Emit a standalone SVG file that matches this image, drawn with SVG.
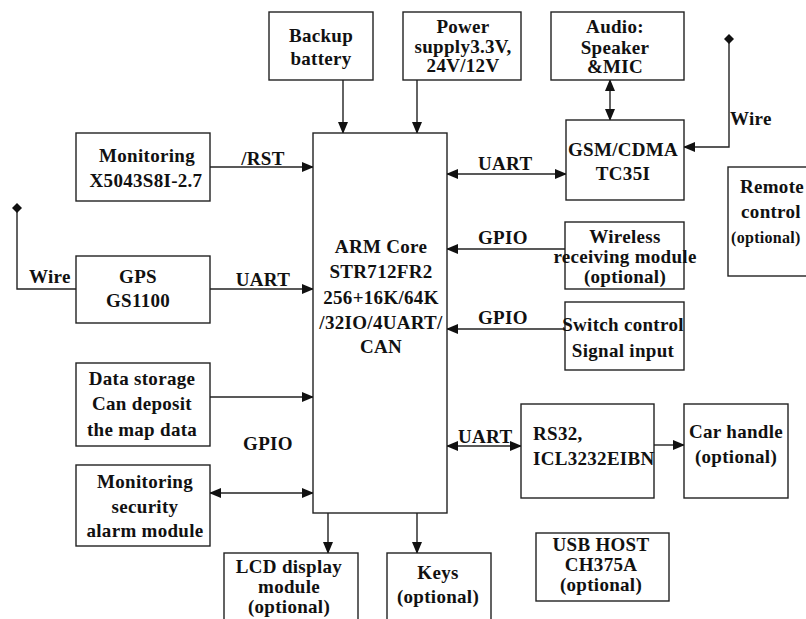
<svg xmlns="http://www.w3.org/2000/svg" width="806" height="619" viewBox="0 0 806 619">
<style>
.b{fill:#fff;stroke:#222;stroke-width:1.4}
.c{fill:none;stroke:#222;stroke-width:1.4}
text{font-family:"Liberation Serif","Times New Roman",serif;font-weight:bold;font-size:19px;fill:#111;text-anchor:middle;letter-spacing:0.3px}
.l{text-anchor:start}
</style>
<defs>
<marker id="ae" markerWidth="12" markerHeight="10" refX="11" refY="5" orient="auto" markerUnits="userSpaceOnUse"><path d="M0,0L12,5L0,10z" fill="#111"/></marker>
<marker id="as" markerWidth="12" markerHeight="10" refX="1" refY="5" orient="auto" markerUnits="userSpaceOnUse"><path d="M12,0L0,5L12,10z" fill="#111"/></marker>
<marker id="dm" markerWidth="10" markerHeight="10" refX="5" refY="5" orient="auto" markerUnits="userSpaceOnUse"><path d="M5,0L10,5L5,10L0,5z" fill="#111"/></marker>
</defs>
<g id="connectors">
<path class="c" d="M343,80V133" marker-end="url(#ae)"/>
<path class="c" d="M417,80V133" marker-end="url(#ae)"/>
<path class="c" d="M610,80V120" marker-start="url(#as)" marker-end="url(#ae)"/>
<path class="c" d="M729,39V147H684" marker-start="url(#dm)" marker-end="url(#ae)"/>
<path class="c" d="M447,174H566" marker-start="url(#as)" marker-end="url(#ae)"/>
<path class="c" d="M565,249H447" marker-end="url(#ae)"/>
<path class="c" d="M565,329H447" marker-end="url(#ae)"/>
<path class="c" d="M210,167H313" marker-end="url(#ae)"/>
<path class="c" d="M210,289H313" marker-end="url(#ae)"/>
<path class="c" d="M17,208V289H76" marker-start="url(#dm)"/>
<path class="c" d="M210,397H313" marker-end="url(#ae)"/>
<path class="c" d="M210,493H313" marker-start="url(#as)" marker-end="url(#ae)"/>
<path class="c" d="M328,513V553" marker-end="url(#ae)"/>
<path class="c" d="M417,513V553" marker-end="url(#ae)"/>
<path class="c" d="M447,446H521" marker-start="url(#as)" marker-end="url(#ae)"/>
<path class="c" d="M654,445H684" marker-end="url(#ae)"/>
<text x="263" y="165">/RST</text>
<text x="263" y="286">UART</text>
<text x="268" y="450">GPIO</text>
<text class="l" x="478" y="170">UART</text>
<text class="l" x="478" y="244">GPIO</text>
<text class="l" x="478" y="324">GPIO</text>
<text class="l" x="458" y="443">UART</text>
<text class="l" x="730" y="125">Wire</text>
<text class="l" x="29" y="283">Wire</text>
</g>
<g id="backup"><rect class="b" x="269" y="12" width="104" height="68"/><text x="321" y="42">Backup</text><text x="321" y="65">battery</text></g>
<g id="power"><rect class="b" x="403" y="12" width="118" height="68"/><text x="463" y="33">Power</text><text x="463" y="53">supply3.3V,</text><text x="463" y="72">24V/12V</text></g>
<g id="audio"><rect class="b" x="551" y="12" width="133" height="68"/><text x="615" y="33">Audio:</text><text x="615" y="54">Speaker</text><text x="615" y="73">&amp;MIC</text></g>
<g id="gsm"><rect class="b" x="566" y="120" width="118" height="80"/><text x="623" y="156">GSM/CDMA</text><text x="623" y="180">TC35I</text></g>
<g id="remote"><rect class="b" x="728" y="167" width="100" height="109"/><text x="772" y="193">Remote</text><text x="771" y="218">control</text><text class="l" x="731" y="243" style="font-size:16px">(optional)</text></g>
<g id="core"><rect class="b" x="313" y="133" width="134" height="380"/><text x="381" y="253">ARM Core</text><text x="381" y="278">STR712FR2</text><text x="381" y="304">256+16K/64K</text><text x="381" y="329">/32IO/4UART/</text><text x="381" y="353">CAN</text></g>
<g id="wireless"><rect class="b" x="565" y="222" width="119" height="67"/><text x="625" y="243">Wireless</text><text x="625" y="263">receiving module</text><text x="625" y="283">(optional)</text></g>
<g id="switch"><rect class="b" x="565" y="302" width="119" height="68"/><text x="623" y="331">Switch control</text><text x="623" y="357">Signal input</text></g>
<g id="x5043"><rect class="b" x="76" y="133" width="134" height="68"/><text x="147" y="162">Monitoring</text><text x="146" y="187">X5043S8I-2.7</text></g>
<g id="gps"><rect class="b" x="76" y="256" width="134" height="67"/><text x="138" y="283">GPS</text><text x="138" y="307">GS1100</text></g>
<g id="storage"><rect class="b" x="76" y="363" width="134" height="83"/><text x="142" y="385">Data storage</text><text x="142" y="410">Can deposit</text><text x="142" y="436">the map data</text></g>
<g id="security"><rect class="b" x="76" y="465" width="134" height="81"/><text x="145" y="488">Monitoring</text><text x="145" y="513">security</text><text x="145" y="537">alarm module</text></g>
<g id="lcd"><rect class="b" x="224" y="553" width="134" height="70"/><text x="289" y="573">LCD display</text><text x="289" y="593">module</text><text x="289" y="613">(optional)</text></g>
<g id="keys"><rect class="b" x="387" y="553" width="104" height="70"/><text x="438" y="579">Keys</text><text x="438" y="603">(optional)</text></g>
<g id="rs32"><rect class="b" x="521" y="404" width="133" height="94"/><text class="l" x="533" y="440">RS32,</text><text class="l" x="533" y="465">ICL3232EIBN</text></g>
<g id="car"><rect class="b" x="684" y="404" width="104" height="94"/><text x="736" y="438">Car handle</text><text x="736" y="463">(optional)</text></g>
<g id="usb"><rect class="b" x="536" y="533" width="133" height="68"/><text x="601" y="551">USB HOST</text><text x="601" y="571">CH375A</text><text x="601" y="591">(optional)</text></g>
</svg>
